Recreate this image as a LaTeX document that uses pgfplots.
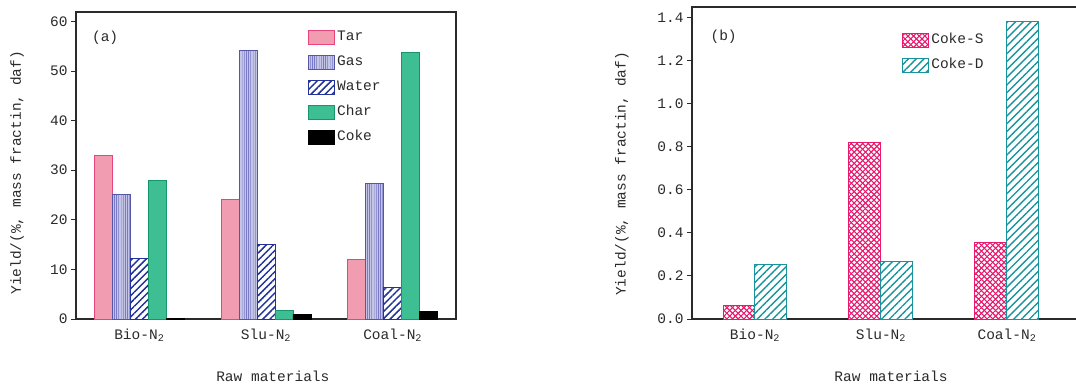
\documentclass[border=0pt]{standalone}
\usepackage{fontspec}
\setmainfont{Liberation Mono}
\usepackage{pgfplots}
\pgfplotsset{compat=1.18}
\usetikzlibrary{patterns.meta}

\definecolor{tarfill}{HTML}{F29CB2}
\definecolor{taredge}{HTML}{E8457A}
\definecolor{gasfill}{HTML}{C4C4E6}
\definecolor{gasline}{HTML}{7A7AC4}
\definecolor{gasedge}{HTML}{5656A8}
\definecolor{watercol}{HTML}{22329A}
\definecolor{charfill}{HTML}{3DBE93}
\definecolor{charedge}{HTML}{15956A}
\definecolor{cokeS}{HTML}{E8196E}
\definecolor{cokeD}{HTML}{17949C}
\definecolor{txt}{HTML}{2A2A2A}

\tikzdeclarepattern{
  name=hatchW, type=uncolored,
  bounding box={(0,-1pt) and (5pt,1pt)},
  tile size={(5pt,5pt)},
  tile transformation={rotate=45},
  code={\draw[line width=1.5pt] (0,0)--(5pt,0);}
}
\tikzdeclarepattern{
  name=hatchD, type=uncolored,
  bounding box={(0,-1pt) and (5.5pt,1pt)},
  tile size={(5.5pt,5.5pt)},
  tile transformation={rotate=45},
  code={\draw[line width=1.4pt] (0,0)--(5.5pt,0);}
}
\tikzdeclarepattern{
  name=xhatch, type=uncolored,
  bounding box={(-0.6pt,-0.6pt) and (4pt,4pt)},
  tile size={(4pt,4pt)},
  tile transformation={rotate=45},
  code={\draw[line width=1.1pt] (0,0)--(4pt,0) (0,0)--(0,4pt);}
}
\tikzdeclarepattern{
  name=vlinesfine, type=uncolored,
  bounding box={(-0.4pt,0) and (0.4pt,2.2pt)},
  tile size={(2.2pt,2.2pt)},
  code={\draw[line width=0.7pt] (0,0)--(0,2.2pt);}
}

\pgfplotsset{
  common/.style={
    scale only axis,
    anchor=south west,
    ybar=0pt,
    ymin=0,
    xtick={0,1,2},
    xticklabels={Bio-N\textsubscript{2},Slu-N\textsubscript{2},Coal-N\textsubscript{2}},
    xticklabel style={yshift=-6pt},
    xtick pos=bottom, ytick pos=left,
    xtick align=inside, ytick align=outside,
    major tick length=5pt,
    /pgf/number format/assume math mode=true,
    tick style={line width=1pt, color=txt},
    axis line style={line width=1.2pt, color=txt},
    every tick label/.append style={font=\fontsize{14.5}{16}\selectfont, text=txt},
    label style={font=\fontsize{14.5}{16}\selectfont, text=txt},
    legend style={draw=none, fill=none, font=\fontsize{14.5}{16}\selectfont, text=txt,
      cells={anchor=west}, row sep=8pt,
      nodes={inner sep=2pt, text height=10pt, text depth=3pt},
      /tikz/every even column/.append style={column sep=4pt}},
    legend image code/.code={\draw[##1] (0pt,-7pt) rectangle (26pt,7pt);},
  }
}

\begin{document}
\begin{tikzpicture}
\useasboundingbox (0,0) rectangle (1076pt,384pt);
% ---------------- (a)
\begin{axis}[common,
  at={(76pt,65pt)},
  width=380pt, height=307pt,
  xmin=-0.5, xmax=2.5,
  ymax=61.9,
  ytick={0,10,20,30,40,50,60},
  bar width=0.142,
  xlabel={Raw materials},
  ylabel={Yield/(\%, mass fractin, daf)},
  xlabel style={at={(axis description cs:0.518,-0.186)}, anchor=center},
  ylabel style={at={(axis description cs:-0.155,0.476)}, anchor=center},
  legend style={at={(rel axis cs:0.603,0.952)}, anchor=north west},
]
\addplot[fill=tarfill, draw=taredge, line width=0.8pt] coordinates {(0,32.9) (1,24.1) (2,12.0)};
\addplot[fill=gasfill, draw=gasedge, line width=0.8pt, postaction={pattern=vlinesfine, pattern color=gasline}] coordinates {(0,25.1) (1,54.2) (2,27.4)};
\addplot[fill=white, draw=watercol, line width=0.8pt, postaction={pattern=hatchW, pattern color=watercol}] coordinates {(0,12.2) (1,15.1) (2,6.3)};
\addplot[fill=charfill, draw=charedge, line width=0.8pt] coordinates {(0,28.0) (1,1.7) (2,53.7)};
\addplot[fill=black, draw=black, line width=0.8pt] coordinates {(0,0.2) (1,0.95) (2,1.6)};
\legend{Tar,Gas,Water,Char,Coke}
\node[anchor=west, font=\fontsize{14.5}{16}\selectfont, text=txt] at (rel axis cs:0.033,0.915) {(a)};
\end{axis}
% ---------------- (b)
\begin{axis}[common,
  at={(692pt,65pt)},
  width=385pt, height=312pt,
  xmin=-0.5, xmax=2.556,
  ymax=1.448,
  ytick={0,0.2,0.4,0.6,0.8,1.0,1.2,1.4},
  yticklabel style={/pgf/number format/.cd, fixed, fixed zerofill, precision=1},
  bar width=0.254,
  xlabel={Raw materials},
  ylabel={Yield/(\%, mass fractin, daf)},
  xlabel style={at={(axis description cs:0.517,-0.183)}, anchor=center},
  ylabel style={at={(axis description cs:-0.182,0.465)}, anchor=center},
  legend style={at={(rel axis cs:0.538,0.927)}, anchor=north west},
]
\addplot[fill=white, draw=cokeS, line width=1pt, postaction={pattern=xhatch, pattern color=cokeS}] coordinates {(0,0.063) (1,0.821) (2,0.354)};
\addplot[fill=white, draw=cokeD, line width=1pt, postaction={pattern=hatchD, pattern color=cokeD}] coordinates {(0,0.255) (1,0.269) (2,1.381)};
\legend{Coke-S,Coke-D}
\node[anchor=west, font=\fontsize{14.5}{16}\selectfont, text=txt] at (rel axis cs:0.039,0.904) {(b)};
\end{axis}
\end{tikzpicture}
\end{document}
